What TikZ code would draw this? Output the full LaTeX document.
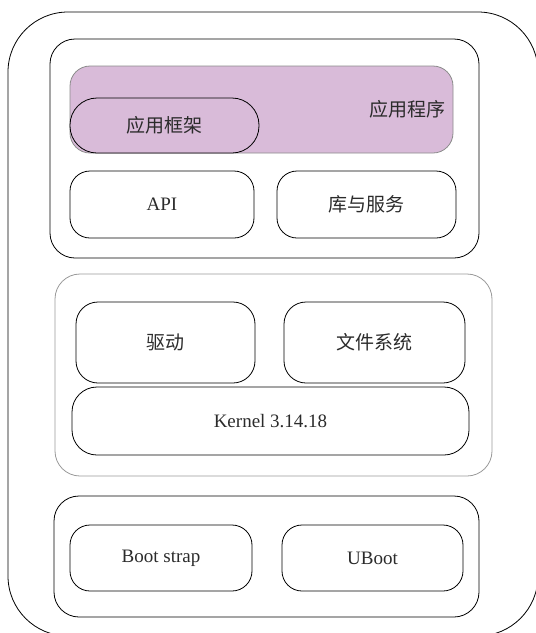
\documentclass[tikz,border=0pt]{standalone}
\usepackage{fontspec}
\setmainfont{Liberation Serif}
\newfontfamily\cjk{Noto Sans CJK SC}
\definecolor{appfill}{HTML}{D9BBD9}
\definecolor{txt}{HTML}{2B2B2B}
\begin{document}
\begin{tikzpicture}[x=1pt,y=-1pt,
  every node/.style={inner sep=0pt, outer sep=0pt, text=txt, font=\fontsize{19}{22}\selectfont},
  rbox/.style={draw=black, line width=0.8pt, rounded corners=#1, rectangle},
  rbox/.default=20pt]
\useasboundingbox (0,0) rectangle (536,633);
\begin{scope}
\clip (0,0) rectangle (536,633);
% outer (extends past the right and bottom edges)
\node[rbox=60pt, minimum width=530pt, minimum height=624pt] (outer) at (273,324) {};
\end{scope}
% top group
\node[rbox=25pt, minimum width=429pt, minimum height=219pt] (top) at (264.5,148.5) {};
\node[rbox=20pt, draw=gray!90, fill=appfill, minimum width=383pt, minimum height=87pt] (app) at (261.5,109.5) {};
\node (apptext) at (407,109) {\cjk 应用程序};
\node[rbox=27pt, fill=appfill, minimum width=189pt, minimum height=55pt] (fw) at (164.5,125.5) {\cjk 应用框架};
\node[rbox=20pt, minimum width=184pt, minimum height=67pt] (api) at (162,204.5) {API};
\node[rbox=20pt, minimum width=179pt, minimum height=67pt] (lib) at (366.5,204.5) {\cjk 库与服务};
% middle group
\node[rbox=25pt, draw=gray!80, minimum width=437pt, minimum height=202pt] (mid) at (273.5,375) {};
\node[rbox=22pt, minimum width=179pt, minimum height=81pt] (drv) at (165.5,342.5) {\cjk 驱动};
\node[rbox=22pt, minimum width=181pt, minimum height=81pt] (fs) at (374.5,342.5) {\cjk 文件系统};
\node[rbox=25pt, minimum width=397pt, minimum height=68pt] (kern) at (270.5,421) {Kernel 3.14.18};
% bottom group
\node[rbox=25pt, minimum width=425pt, minimum height=121pt] (bot) at (266.5,556.5) {};
\node[rbox=20pt, minimum width=182pt, minimum height=66pt] (bs) at (161,558) {Boot strap};
\node[rbox=20pt, minimum width=181pt, minimum height=66pt] (ub) at (372.5,558) {UBoot};
\end{tikzpicture}
\end{document}
